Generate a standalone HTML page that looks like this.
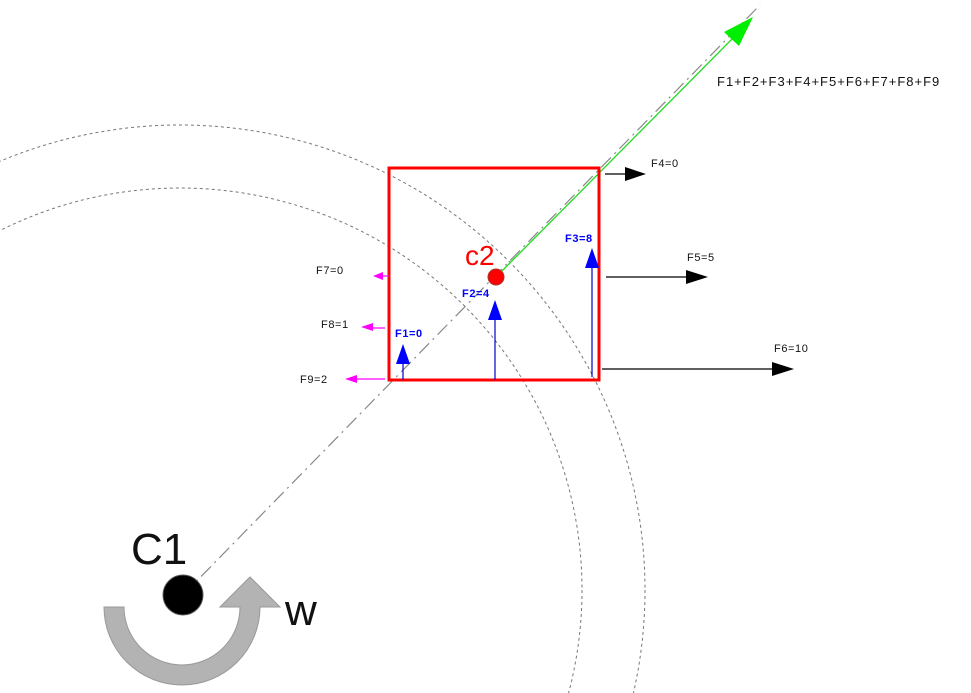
<!DOCTYPE html>
<html><head><meta charset="utf-8"><style>html,body{margin:0;padding:0;background:#fff;width:971px;height:693px;overflow:hidden}svg{display:block}</style></head>
<body>
<svg width="971" height="693" viewBox="0 0 971 693" xmlns="http://www.w3.org/2000/svg" font-family="Liberation Sans, sans-serif">
<rect width="971" height="693" fill="#fff"/>
<g fill="none" stroke="#777" stroke-width="1" stroke-dasharray="3,3">
<circle cx="180" cy="590" r="465"/>
<circle cx="180" cy="590" r="402"/>
</g>
<line x1="183" y1="595" x2="760" y2="5" stroke="#888" stroke-width="1.2" stroke-dasharray="14,5,2,5"/>
<line x1="496" y1="277" x2="735" y2="36" stroke="#22dd22" stroke-width="1.3"/>
<polygon points="753,17 724,32 739,46" fill="#00ee00"/>
<text x="717" y="86" font-size="13" fill="#111" letter-spacing="1">F1+F2+F3+F4+F5+F6+F7+F8+F9</text>
<rect x="389" y="168" width="210" height="212" fill="none" stroke="#ff0000" stroke-width="3"/>
<circle cx="496" cy="277" r="8" fill="#ff0000" stroke="#a33" stroke-width="1"/>
<text x="465" y="265" font-size="28" fill="#ff0000">c2</text>
<g stroke="#000" stroke-width="1.2">
<line x1="605" y1="174" x2="626" y2="174"/>
<line x1="606" y1="277" x2="688" y2="277"/>
<line x1="602" y1="369" x2="774" y2="369"/>
</g>
<polygon points="625,167 646,174 625,181" fill="#000"/>
<polygon points="686,270 708,277 686,284" fill="#000"/>
<polygon points="772,362 794,369 772,376" fill="#000"/>
<g font-size="11" fill="#111" letter-spacing="0.6">
<text x="651" y="167">F4=0</text>
<text x="687" y="261">F5=5</text>
<text x="774" y="352">F6=10</text>
<text x="316" y="274">F7=0</text>
<text x="321" y="328">F8=1</text>
<text x="300" y="383">F9=2</text>
</g>
<g stroke="#ff00ff" stroke-width="1.2">
<line x1="381" y1="276" x2="389" y2="276"/>
<line x1="368" y1="328" x2="385" y2="328"/>
<line x1="352" y1="379" x2="385" y2="379"/>
</g>
<polygon points="373,276 383,272 383,280" fill="#ff00ff"/>
<polygon points="361,327 373,323 373,331" fill="#ff00ff"/>
<polygon points="345,379 357,375 357,383" fill="#ff00ff"/>
<g stroke="#0000cc" stroke-width="1.2">
<line x1="403" y1="380" x2="403" y2="362"/>
<line x1="495" y1="380" x2="495" y2="318"/>
<line x1="592" y1="377" x2="592" y2="266"/>
</g>
<polygon points="403,344 396,364 410,364" fill="#0000ff"/>
<polygon points="495,300 488,320 502,320" fill="#0000ff"/>
<polygon points="592,248 585,268 599,268" fill="#0000ff"/>
<g font-size="11" font-weight="bold" fill="#0000ff" letter-spacing="0.6">
<text x="395" y="337">F1=0</text>
<text x="462" y="297">F2=4</text>
<text x="565" y="242">F3=8</text>
</g>
<path d="M104,607 A78,78 0 0 0 260,607 L280,607 L250,577 L220,607 L240,607 A58,58 0 0 1 124,607 Z" fill="#b3b3b3" stroke="#999" stroke-width="1"/>
<circle cx="183" cy="595" r="20" fill="#000" stroke="#555" stroke-width="1"/>
<text x="131" y="564" font-size="44" fill="#111">C1</text>
<text x="285" y="625" font-size="44" fill="#111">w</text>
</svg>
</body></html>
